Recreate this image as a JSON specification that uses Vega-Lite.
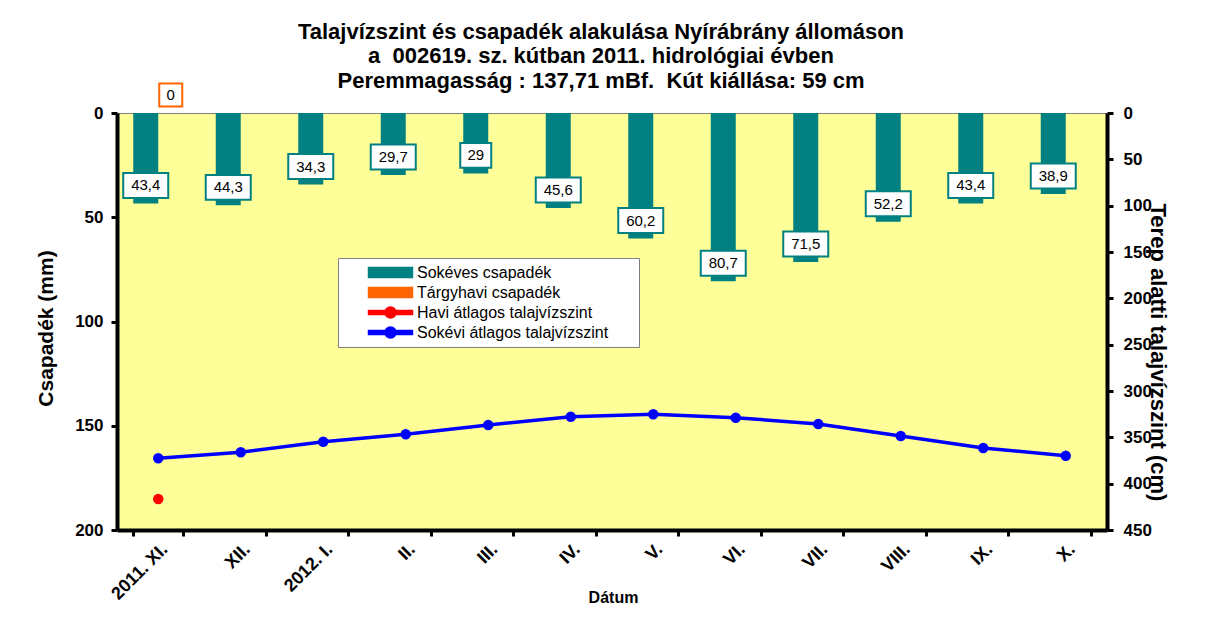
{
  "$schema": "https://vega.github.io/schema/vega-lite/v6.json",
  "autosize": {"type": "none"},
  "width": 990,
  "height": 417,
  "padding": {"left": 117, "top": 113, "right": 113, "bottom": 88},
  "background": "white",
  "config": {
    "font": "Liberation Sans",
    "locale": {"number": {"decimal": ",", "thousands": " ", "grouping": [3], "currency": ["", " Ft"]}},
    "view": {"fill": "#FFFF99", "stroke": "#808080", "strokeWidth": 1},
    "axis": {
      "grid": false, "domainColor": "black", "domainWidth": 4, "tickColor": "black", "tickWidth": 3, "tickSize": 6,
      "labelFont": "Liberation Sans", "labelFontWeight": "bold", "labelFontSize": 17, "labelColor": "black",
      "titleFont": "Liberation Sans", "titleFontWeight": "bold", "titleFontSize": 20, "titleColor": "black"
    }
  },
  "title": {
    "text": ["Talajvízszint és csapadék alakulása Nyírábrány állomáson", "a\u00a0 002619. sz. kútban 2011. hidrológiai évben", "Peremmagasság : 137,71 mBf.\u00a0 Kút kiállása: 59 cm"],
    "font": "Liberation Sans", "fontSize": 22, "fontWeight": "bold", "lineHeight": 24.5, "anchor": "middle", "color": "black", "offset": -13, "dx": -11
  },
  "datasets": {
    "csapadek": [
      {"honap": "2011. XI.", "sorozat": "Sokéves csapadék", "ertek": 43.4},
      {"honap": "XII.", "sorozat": "Sokéves csapadék", "ertek": 44.3},
      {"honap": "2012. I.", "sorozat": "Sokéves csapadék", "ertek": 34.3},
      {"honap": "II.", "sorozat": "Sokéves csapadék", "ertek": 29.7},
      {"honap": "III.", "sorozat": "Sokéves csapadék", "ertek": 29},
      {"honap": "IV.", "sorozat": "Sokéves csapadék", "ertek": 45.6},
      {"honap": "V.", "sorozat": "Sokéves csapadék", "ertek": 60.2},
      {"honap": "VI.", "sorozat": "Sokéves csapadék", "ertek": 80.7},
      {"honap": "VII.", "sorozat": "Sokéves csapadék", "ertek": 71.5},
      {"honap": "VIII.", "sorozat": "Sokéves csapadék", "ertek": 52.2},
      {"honap": "IX.", "sorozat": "Sokéves csapadék", "ertek": 43.4},
      {"honap": "X.", "sorozat": "Sokéves csapadék", "ertek": 38.9},
      {"honap": "2011. XI.", "sorozat": "Tárgyhavi csapadék", "ertek": 0}
    ],
    "talajviz": [
      {"honap": "2011. XI.", "sorozat": "Sokévi átlagos talajvízszint", "ertek": 372.6},
      {"honap": "XII.", "sorozat": "Sokévi átlagos talajvízszint", "ertek": 366.1},
      {"honap": "2012. I.", "sorozat": "Sokévi átlagos talajvízszint", "ertek": 354.7},
      {"honap": "II.", "sorozat": "Sokévi átlagos talajvízszint", "ertek": 346.7},
      {"honap": "III.", "sorozat": "Sokévi átlagos talajvízszint", "ertek": 336.7},
      {"honap": "IV.", "sorozat": "Sokévi átlagos talajvízszint", "ertek": 327.7},
      {"honap": "V.", "sorozat": "Sokévi átlagos talajvízszint", "ertek": 325.1},
      {"honap": "VI.", "sorozat": "Sokévi átlagos talajvízszint", "ertek": 328.8},
      {"honap": "VII.", "sorozat": "Sokévi átlagos talajvízszint", "ertek": 335.6},
      {"honap": "VIII.", "sorozat": "Sokévi átlagos talajvízszint", "ertek": 348.6},
      {"honap": "IX.", "sorozat": "Sokévi átlagos talajvízszint", "ertek": 361.5},
      {"honap": "X.", "sorozat": "Sokévi átlagos talajvízszint", "ertek": 370.0},
      {"honap": "2011. XI.", "sorozat": "Havi átlagos talajvízszint", "ertek": 416.5}
    ]
  },
  "encoding": {
    "x": {
      "field": "honap", "type": "nominal",
      "scale": {"domain": ["2011. XI.", "XII.", "2012. I.", "II.", "III.", "IV.", "V.", "VI.", "VII.", "VIII.", "IX.", "X."], "paddingInner": 0.394, "paddingOuter": 0.197},
      "axis": {"title": "Dátum", "titleFontSize": 16, "labelAngle": -45, "labelFontSize": 18, "tickBand": "extent", "labelPadding": 4, "titleY": 67, "titleBaseline": "middle", "titleX": 496}
    }
  },
  "layer": [
    {
      "data": {"name": "csapadek"},
      "layer": [
        {
          "mark": {"type": "bar"},
          "encoding": {
            "xOffset": {"field": "sorozat", "type": "nominal", "scale": {"domain": ["Sokéves csapadék", "Tárgyhavi csapadék"]}},
            "y": {"field": "ertek", "type": "quantitative", "scale": {"domain": [0, 200], "reverse": true, "nice": false},
              "axis": {"title": "Csapadék (mm)", "values": [0, 50, 100, 150, 200], "labelPadding": 8, "titleX": -71, "titleY": 215, "titleBaseline": "middle", "titleAlign": "center", "titleFontSize": 21}},
            "color": {
              "field": "sorozat", "type": "nominal",
              "scale": {"domain": ["Sokéves csapadék", "Tárgyhavi csapadék", "Havi átlagos talajvízszint", "Sokévi átlagos talajvízszint"], "range": ["#008080", "#FF6600", "#FF0000", "#0000FF"]},
              "legend": {
                "title": null, "orient": "none", "legendX": 221, "legendY": 145,
                "fillColor": "white", "strokeColor": "#808080", "padding": 6,
                "labelFont": "Liberation Sans", "labelFontSize": 16, "labelColor": "black", "labelLimit": 400,
                "labelExpr": "datum.label + '\u2800\u2800'",
                "symbolSize": 225, "symbolOffset": 38, "labelOffset": 18, "rowPadding": 3,
                "encode": {
                  "symbols": {
                    "update": {
                      "shape": {"signal": "indexof(['Havi átlagos talajvízszint','Sokévi átlagos talajvízszint'], datum.value) >= 0 ? 'M-2.93,-0.27H2.93V0.27H-2.93Z M-0.73,0A0.73,0.73 0 1,1 0.73,0A0.73,0.73 0 1,1 -0.73,0Z' : 'M-2.93,-0.67H2.93V0.67H-2.93Z'"},
                      "fill": {"signal": "scale('color', datum.value)"},
                      "stroke": {"value": "transparent"},
                      "opacity": {"value": 1},
                      "fillOpacity": {"value": 1}
                    }
                  }
                }
              }
            }
          }
        },
        {
          "transform": [{"filter": "datum.sorozat == 'Sokéves csapadék' && datum.ertek % 1 != 0"}],
          "mark": {"type": "point", "shape": "M-1,-0.555H1V0.555H-1Z", "size": 2025, "filled": false, "fill": "white", "stroke": "#008080", "strokeWidth": 2, "opacity": 1, "yOffset": -18},
          "encoding": {
            "xOffset": {"field": "sorozat", "type": "nominal"},
            "y": {"field": "ertek", "type": "quantitative"}
          }
        },
        {
          "transform": [{"filter": "datum.sorozat == 'Sokéves csapadék' && datum.ertek % 1 == 0"}],
          "mark": {"type": "point", "shape": "M-1,-0.8H1V0.8H-1Z", "size": 961, "filled": false, "fill": "white", "stroke": "#008080", "strokeWidth": 2, "opacity": 1, "yOffset": -18},
          "encoding": {
            "xOffset": {"field": "sorozat", "type": "nominal"},
            "y": {"field": "ertek", "type": "quantitative"}
          }
        },
        {
          "transform": [{"filter": "datum.sorozat == 'Tárgyhavi csapadék'"}],
          "mark": {"type": "point", "shape": "square", "size": 529, "filled": false, "fill": "white", "stroke": "#FF6600", "strokeWidth": 2, "opacity": 1, "yOffset": -18},
          "encoding": {
            "xOffset": {"field": "sorozat", "type": "nominal"},
            "y": {"field": "ertek", "type": "quantitative"}
          }
        },
        {
          "mark": {"type": "text", "font": "Liberation Sans", "fontSize": 15, "color": "black", "yOffset": -18, "baseline": "middle", "align": "center"},
          "encoding": {
            "xOffset": {"field": "sorozat", "type": "nominal"},
            "y": {"field": "ertek", "type": "quantitative"},
            "text": {"field": "ertek", "type": "quantitative", "format": ".1~f"}
          }
        }
      ]
    },
    {
      "data": {"name": "talajviz"},
      "layer": [
        {
          "transform": [{"filter": "datum.sorozat == 'Sokévi átlagos talajvízszint'"}],
          "mark": {"type": "line", "strokeWidth": 3.5},
          "encoding": {
            "y": {"field": "ertek", "type": "quantitative", "scale": {"domain": [0, 450], "reverse": true, "nice": false},
              "axis": {"orient": "right", "title": "Terep alatti talajvízszint (cm)", "values": [0, 50, 100, 150, 200, 250, 300, 350, 400, 450], "labelPadding": 10, "titleAngle": 90, "titleX": 50, "titleY": 239, "titleBaseline": "middle", "titleAlign": "center", "titleFontSize": 22}},
            "color": {"field": "sorozat", "type": "nominal"}
          }
        },
        {
          "mark": {"type": "point", "filled": true, "size": 110, "opacity": 1},
          "encoding": {
            "y": {"field": "ertek", "type": "quantitative"},
            "color": {"field": "sorozat", "type": "nominal"}
          }
        }
      ]
    }
  ],
  "resolve": {"scale": {"y": "independent"}}
}
